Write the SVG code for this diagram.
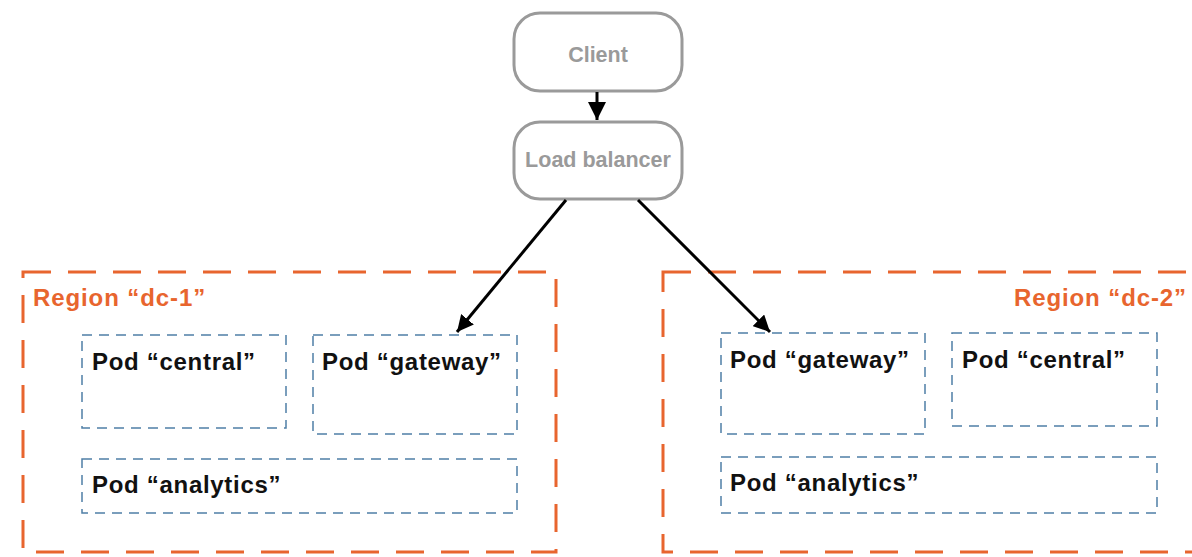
<svg xmlns="http://www.w3.org/2000/svg" width="1192" height="557" viewBox="0 0 1192 557">
  <style>
    .svc rect { fill: #ffffff; stroke: #9a9a9a; stroke-width: 3; }
    .svc text { fill: #9a9a9a; font: bold 21.5px "Liberation Sans", Arial, sans-serif; text-anchor: middle; }
    .region rect { fill: none; stroke: #e8652e; stroke-width: 3; stroke-dasharray: 28 17; }
    .region text { fill: #e8652e; font: bold 24px "Liberation Sans", Arial, sans-serif; letter-spacing: 0.9px; }
    .pod rect { fill: none; stroke: #4f7fa6; stroke-width: 1.5; stroke-dasharray: 10 7; }
    .pod text { fill: #111111; font: bold 24px "Liberation Sans", Arial, sans-serif; letter-spacing: 0.7px; }
    .conn line { stroke: #000000; stroke-width: 3; fill: none; }
  </style>
  <defs>
    <marker id="arrow" viewBox="0 0 10 10" refX="10" refY="5" markerWidth="5.5" markerHeight="5.5" markerUnits="strokeWidth" orient="auto">
      <path d="M0,0 L10,5 L0,10 z" fill="#000000"/>
    </marker>
    <marker id="arrow-sm" viewBox="0 0 10 10" refX="10" refY="5" markerWidth="6" markerHeight="6" markerUnits="strokeWidth" orient="auto">
      <path d="M0,0 L10,5 L0,10 z" fill="#000000"/>
    </marker>
  </defs>

  <rect width="1192" height="557" fill="#ffffff"/>

  <!-- regions -->
  <g id="region-dc1" class="region">
    <rect x="23" y="272" width="533" height="280"/>
    <text x="33" y="306">Region “dc-1”</text>
  </g>
  <g id="region-dc2" class="region">
    <rect x="663" y="272" width="540" height="280"/>
    <text x="1187" y="306" text-anchor="end">Region “dc-2”</text>
  </g>

  <!-- pods in dc-1 -->
  <g id="dc1-central" class="pod">
    <rect x="82" y="335" width="204" height="93"/>
    <text x="92" y="370">Pod “central”</text>
  </g>
  <g id="dc1-gateway" class="pod">
    <rect x="313" y="335" width="204" height="99"/>
    <text x="322" y="370">Pod “gateway”</text>
  </g>
  <g id="dc1-analytics" class="pod">
    <rect x="82" y="459" width="435" height="54"/>
    <text x="92" y="493">Pod “analytics”</text>
  </g>

  <!-- pods in dc-2 -->
  <g id="dc2-gateway" class="pod">
    <rect x="721" y="333" width="204" height="101"/>
    <text x="730" y="368">Pod “gateway”</text>
  </g>
  <g id="dc2-central" class="pod">
    <rect x="952" y="333" width="205" height="93"/>
    <text x="962" y="368">Pod “central”</text>
  </g>
  <g id="dc2-analytics" class="pod">
    <rect x="721" y="457" width="436" height="56"/>
    <text x="730" y="491">Pod “analytics”</text>
  </g>

  <!-- entry services -->
  <g id="client" class="svc">
    <rect x="514" y="13" width="168" height="78" rx="26" ry="26"/>
    <text x="598" y="62">Client</text>
  </g>
  <g id="load-balancer" class="svc">
    <rect x="514" y="122" width="168" height="77" rx="26" ry="26"/>
    <text x="598" y="167">Load balancer</text>
  </g>

  <!-- connectors -->
  <g id="connectors" class="conn">
    <line x1="597" y1="92" x2="597" y2="120" stroke-width="2" marker-end="url(#arrow-sm)"/>
    <line x1="566" y1="200" x2="457" y2="332" marker-end="url(#arrow)"/>
    <line x1="638" y1="200" x2="770" y2="332" marker-end="url(#arrow)"/>
  </g>
</svg>
